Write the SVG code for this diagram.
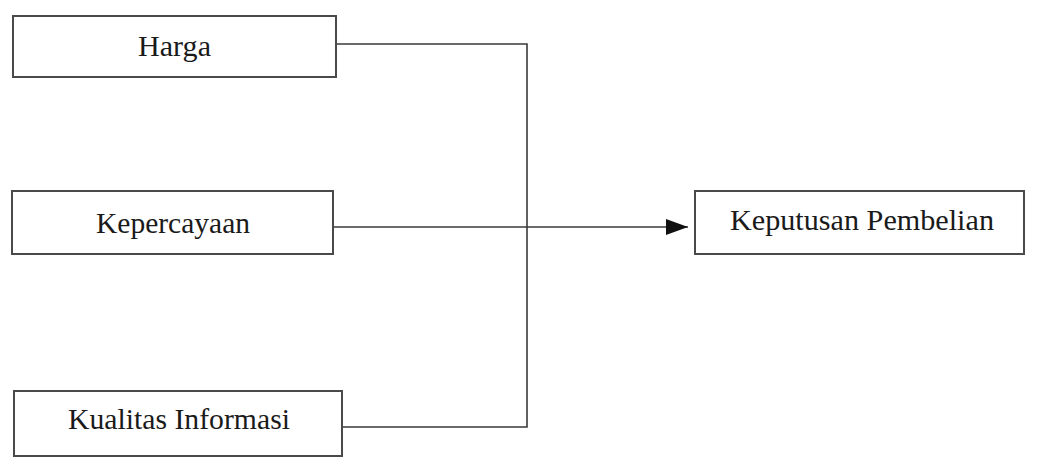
<svg xmlns="http://www.w3.org/2000/svg" width="1041" height="463" viewBox="0 0 1041 463">
  <style>
    .box { fill: #ffffff; stroke: #4a4a4a; stroke-width: 2; }
    .label { font-family: "Liberation Serif", "Times New Roman", serif; font-size: 29px; fill: #1a1a1a; text-anchor: middle; }
    .wire { fill: none; stroke: #3a3a3a; stroke-width: 1.6; }
  </style>
  <defs>
    <marker id="arrow" markerUnits="userSpaceOnUse" markerWidth="24" markerHeight="20" refX="22" refY="9" orient="auto">
      <path d="M0,1 L22,9 L0,17 Z" fill="#111111"/>
    </marker>
  </defs>
  <rect width="1041" height="463" fill="#ffffff"/>

  <g id="connectors">
    <polyline class="wire" points="336,44 527,44 527,427 342,427"/>
    <line class="wire" x1="333" y1="227" x2="688" y2="227" marker-end="url(#arrow)"/>
  </g>

  <g id="harga">
    <rect class="box" x="13" y="16" width="323" height="61"/>
    <text class="label" x="174.5" y="56" textLength="73" lengthAdjust="spacingAndGlyphs">Harga</text>
  </g>

  <g id="kepercayaan">
    <rect class="box" x="12" y="191" width="321" height="63"/>
    <text class="label" x="173" y="233" textLength="154" lengthAdjust="spacingAndGlyphs">Kepercayaan</text>
  </g>

  <g id="kualitas-informasi">
    <rect class="box" x="14" y="391" width="328" height="65"/>
    <text class="label" x="179" y="429" textLength="222" lengthAdjust="spacingAndGlyphs">Kualitas Informasi</text>
  </g>

  <g id="keputusan-pembelian">
    <rect class="box" x="695" y="191" width="329" height="63"/>
    <text class="label" x="862" y="230" textLength="264" lengthAdjust="spacingAndGlyphs">Keputusan Pembelian</text>
  </g>
</svg>
